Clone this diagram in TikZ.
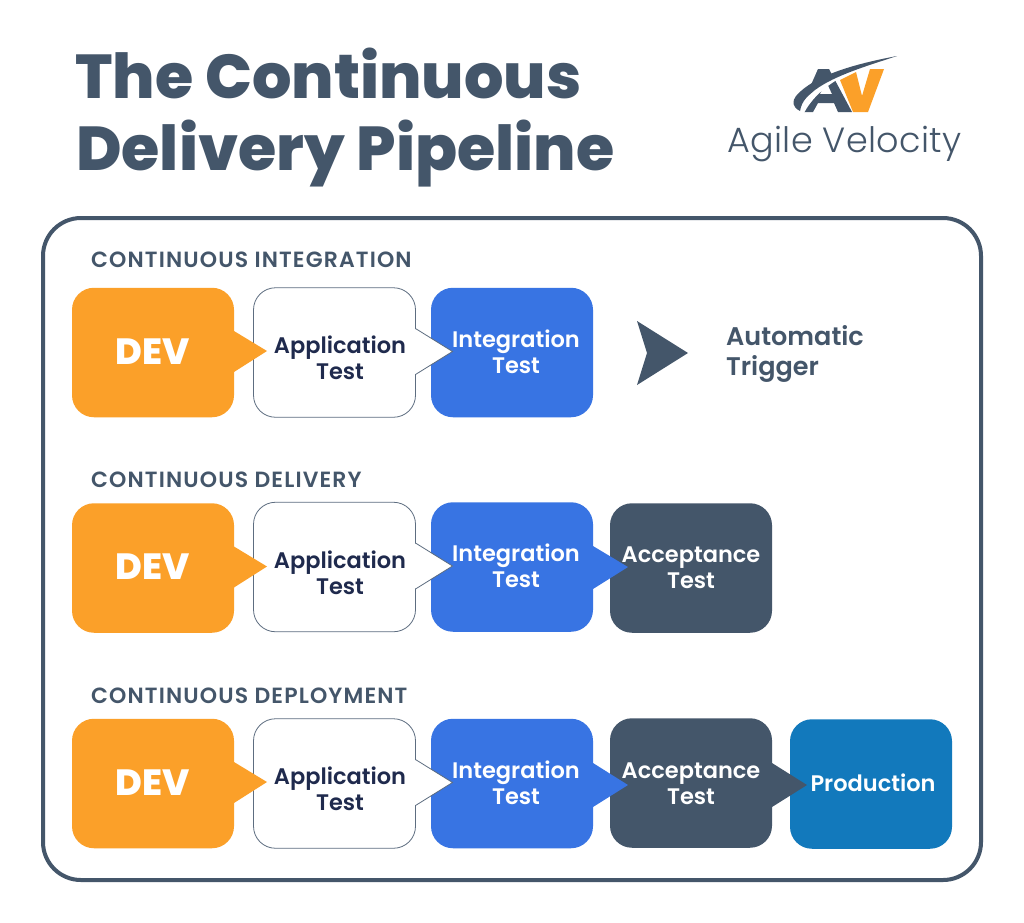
\documentclass[tikz,border=0pt]{standalone}
\usepackage{fontspec}
\setmainfont{Poppins}[BoldFont=Poppins SemiBold]
\newfontfamily\titlefont{Poppins ExtraBold}
\newfontfamily\logofont{Poppins Light}[LetterSpace=1]
\newfontfamily\rowfont{Poppins SemiBold}[LetterSpace=5.2]
\usetikzlibrary{calc}
\definecolor{slate}{HTML}{44566A}
\definecolor{devorange}{HTML}{FBA029}
\definecolor{intblue}{HTML}{3874E3}
\definecolor{prodblue}{HTML}{1279BC}
\definecolor{navytext}{HTML}{1F2A4D}
\definecolor{appline}{HTML}{5D6D80}

\begin{document}
\begin{tikzpicture}[x=1pt,y=-1pt]
\tikzset{box/.style = {shape=rectangle,rounded corners=22pt,minimum width=162pt,minimum height=129.5pt,inner sep=0pt,outer sep=0pt}}
\tikzset{devbox/.style = {box,fill=devorange}}
\tikzset{appbox/.style = {box,fill=white,draw=appline,line width=0.8pt}}
\tikzset{intbox/.style = {box,fill=intblue}}
\tikzset{accbox/.style = {box,fill=slate}}
\tikzset{prodbox/.style = {box,fill=prodblue}}
\tikzset{applinestyle/.style = {draw=appline,line width=0.8pt}}
\tikzset{boxtext/.style = {inner sep=0pt,align=center,text=white,font=\fontsize{22.5}{26}\selectfont\bfseries}}
\tikzset{apptext/.style = {boxtext,text=navytext}}
\tikzset{devtext/.style = {boxtext,font=\fontsize{36.5}{40}\selectfont\titlefont}}
\tikzset{rowtitle/.style = {anchor=base west,inner sep=0pt,text=slate,font=\fontsize{22}{24}\selectfont\rowfont}}
\tikzset{bigtitle/.style = {anchor=base west,inner sep=0pt,text=slate,font=\fontsize{62}{70}\selectfont\titlefont}}
\useasboundingbox (0,0) rectangle (1024,922);
\fill[white] (0,0) rectangle (1024,922);
% title and logo
\node[bigtitle] (title1) at (75,98) {The Continuous};
\node[bigtitle] (title2) at (76,170) {Delivery Pipeline};
\fill[devorange] (840,80) -- (856,72) -- (862,96) -- (870,69) -- (884,69) -- (868,112) -- (853,112) -- cycle;
\fill[slate,even odd rule] (818,69) -- (829,69) -- (852,112) -- (838,112) -- (834,103) -- (818,103) -- (813,112) -- (799,112) -- cycle
  (826,81) -- (820,94) -- (832,94) -- cycle;
\fill[white] (896,56) .. controls (860,66) and (820,82) .. (804,113) -- (797,113) .. controls (800,90) and (850,66) .. (896,56);
\fill[slate] (897,56) .. controls (860,63) and (815,74) .. (796,96) .. controls (792,101) and (792,107) .. (800,111) .. controls (802,100) and (808,96) .. (815,90) .. controls (835,75) and (870,65) .. (897,56);
\node[anchor=base west,inner sep=0pt,text=slate,font=\fontsize{35}{38}\selectfont\logofont] (logotext) at (727,152) {Agile Velocity};
% outer panel
\node[shape=rectangle,draw=slate,line width=4pt,rounded corners=38pt,minimum width=938pt,minimum height=662pt] (panel) at (512,549) {};
% first row
\node[rowtitle] (title3) at (91,267) {CONTINUOUS INTEGRATION};
\node[intbox] (int1) at (512,352.5) {};
\node[appbox] (app1) at (334.5,352.5) {};
\node[devbox] (dev1) at (153,352.5) {};
\fill[white] ($(app1.east)+(-1,-24)$) -- ($(app1.east)+(37,-1)$) -- ($(app1.east)+(-1,22)$) -- cycle;
\draw[applinestyle] ($(app1.east)+(0,-24)$) -- ($(app1.east)+(37,-1)$) -- ($(app1.east)+(0,22)$);
\fill[devorange] ($(dev1.east)+(0,-21.5)$) -- ($(dev1.east)+(33,-1.5)$) -- ($(dev1.east)+(0,19.5)$) -- cycle;
\node[devtext] (devtext1) at (153,351.5) {DEV};
\node[apptext] (apptext1) at (340,358) {Application\\Test};
\node[boxtext] (inttext1) at (516,352) {Integration\\Test};
\fill[slate] (637,321) -- (688,353) -- (637,385) -- (647,353) -- cycle;
\node[anchor=base west,inner sep=0pt,align=left,text=slate,font=\fontsize{25.5}{30}\selectfont\bfseries] (trigger) at (726,375) {Automatic\\Trigger};
% second row
\node[rowtitle] (title4) at (91,487) {CONTINUOUS DELIVERY};
\node[accbox] (acc2) at (691,568) {};
\node[intbox] (int2) at (512,567) {};
\node[appbox] (app2) at (334.5,567) {};
\node[devbox] (dev2) at (153,568) {};
\fill[intblue] ($(int2.east)+(0,-21)$) -- ($(int2.east)+(35,0)$) -- ($(int2.east)+(0,22)$) -- cycle;
\fill[white] ($(app2.east)+(-1,-24)$) -- ($(app2.east)+(37,-1)$) -- ($(app2.east)+(-1,22)$) -- cycle;
\draw[applinestyle] ($(app2.east)+(0,-24)$) -- ($(app2.east)+(37,-1)$) -- ($(app2.east)+(0,22)$);
\fill[devorange] ($(dev2.east)+(0,-21.5)$) -- ($(dev2.east)+(33,-1.5)$) -- ($(dev2.east)+(0,19.5)$) -- cycle;
\node[devtext] (devtext2) at (153,566.5) {DEV};
\node[apptext] (apptext2) at (340,573) {Application\\Test};
\node[boxtext] (inttext2) at (516,566) {Integration\\Test};
\node[boxtext] (acctext2) at (691,568) {Acceptance\\Test};
% third row
\node[rowtitle] (title5) at (91,703) {CONTINUOUS DEPLOYMENT};
\node[prodbox] (prod3) at (871,784) {};
\node[accbox] (acc3) at (691,783) {};
\node[intbox] (int3) at (512,783.5) {};
\node[appbox] (app3) at (334.5,783.5) {};
\node[devbox] (dev3) at (153,783.5) {};
\fill[slate] ($(acc3.east)+(0,-20)$) -- ($(acc3.east)+(35,2)$) -- ($(acc3.east)+(0,24)$) -- cycle;
\fill[intblue] ($(int3.east)+(0,-20.5)$) -- ($(int3.east)+(35,1.5)$) -- ($(int3.east)+(0,23.5)$) -- cycle;
\fill[white] ($(app3.east)+(-1,-24)$) -- ($(app3.east)+(37,-1)$) -- ($(app3.east)+(-1,22)$) -- cycle;
\draw[applinestyle] ($(app3.east)+(0,-24)$) -- ($(app3.east)+(37,-1)$) -- ($(app3.east)+(0,22)$);
\fill[devorange] ($(dev3.east)+(0,-21.5)$) -- ($(dev3.east)+(33,-1.5)$) -- ($(dev3.east)+(0,19.5)$) -- cycle;
\node[devtext] (devtext3) at (153,782.5) {DEV};
\node[apptext] (apptext3) at (340,789) {Application\\Test};
\node[boxtext] (inttext3) at (516,783) {Integration\\Test};
\node[boxtext] (acctext3) at (691,783.5) {Acceptance\\Test};
\node[boxtext] (prodtext3) at (873,783) {Production};
\end{tikzpicture}
\end{document}
